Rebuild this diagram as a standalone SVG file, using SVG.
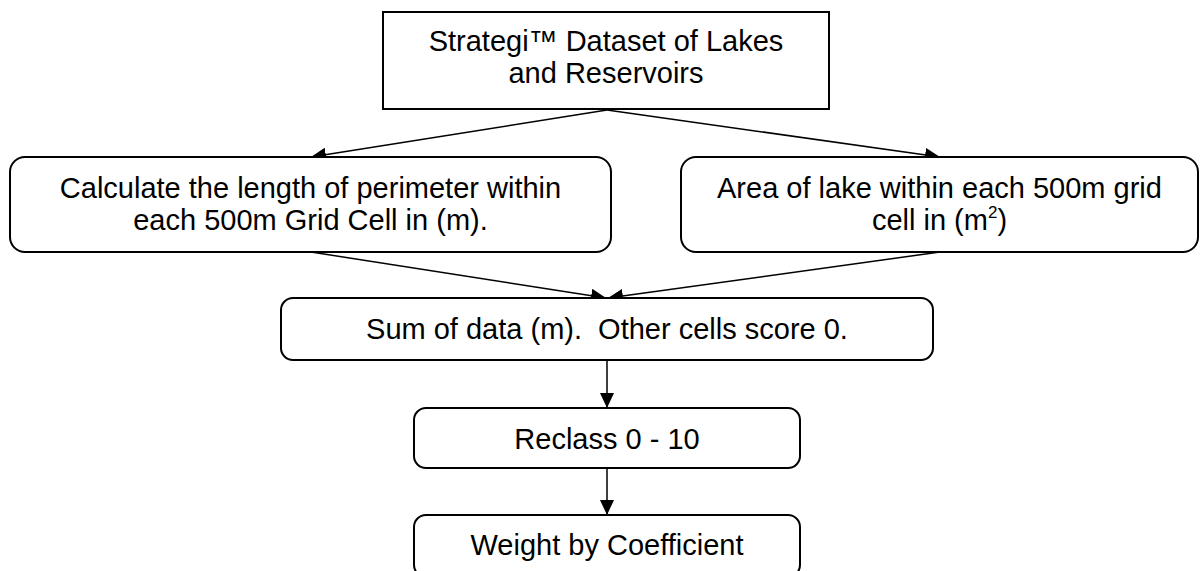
<svg xmlns="http://www.w3.org/2000/svg" width="1201" height="571" viewBox="0 0 1201 571">
<style>
.box{fill:#fff;stroke:#000;stroke-width:2}
.t{font-family:"Liberation Sans",Arial,sans-serif;font-size:29px;fill:#000;text-anchor:middle}
.c{stroke:#000;stroke-width:1.5;fill:none;marker-end:url(#ah)}
</style>
<defs>
<marker id="ah" markerUnits="userSpaceOnUse" markerWidth="15" markerHeight="14" refX="15" refY="7" orient="auto">
<path d="M0,0 L15,7 L0,14 z" fill="#000"/>
</marker>
</defs>
<rect x="0" y="0" width="1201" height="571" fill="#fff"/>
<g id="connectors">
<line class="c" x1="607" y1="110" x2="311" y2="157"/>
<line class="c" x1="607" y1="110" x2="940" y2="157"/>
<line class="c" x1="311" y1="252" x2="606" y2="298"/>
<line class="c" x1="940" y1="252" x2="608" y2="298"/>
<line class="c" x1="607" y1="360" x2="607" y2="408"/>
<line class="c" x1="607" y1="468" x2="607" y2="515"/>
</g>
<g id="n1">
<rect class="box" x="383" y="12" width="446" height="97"/>
<text class="t" x="606" y="51">Strategi™ Dataset of Lakes</text>
<text class="t" x="606" y="83">and Reservoirs</text>
</g>
<g id="n2">
<rect class="box" x="10" y="157" width="601" height="95" rx="15" ry="15"/>
<text class="t" x="310.5" y="198">Calculate the length of perimeter within</text>
<text class="t" x="310.5" y="230">each 500m Grid Cell in (m).</text>
</g>
<g id="n3">
<rect class="box" x="681" y="157" width="517" height="95" rx="15" ry="15"/>
<text class="t" x="939.5" y="198">Area of lake within each 500m grid</text>
<text class="t" x="939.5" y="230">cell in (m<tspan font-size="17" dy="-12">2</tspan><tspan dy="12">)</tspan></text>
</g>
<g id="n4">
<rect class="box" x="281" y="298" width="652" height="62" rx="12" ry="12"/>
<text class="t" x="607" y="339" xml:space="preserve">Sum of data (m).  Other cells score 0.</text>
</g>
<g id="n5">
<rect class="box" x="414" y="408" width="386" height="60" rx="12" ry="12"/>
<text class="t" x="607" y="449">Reclass 0 - 10</text>
</g>
<g id="n6">
<rect class="box" x="414" y="515" width="386" height="62" rx="12" ry="12"/>
<text class="t" x="607" y="555">Weight by Coefficient</text>
</g>
</svg>
